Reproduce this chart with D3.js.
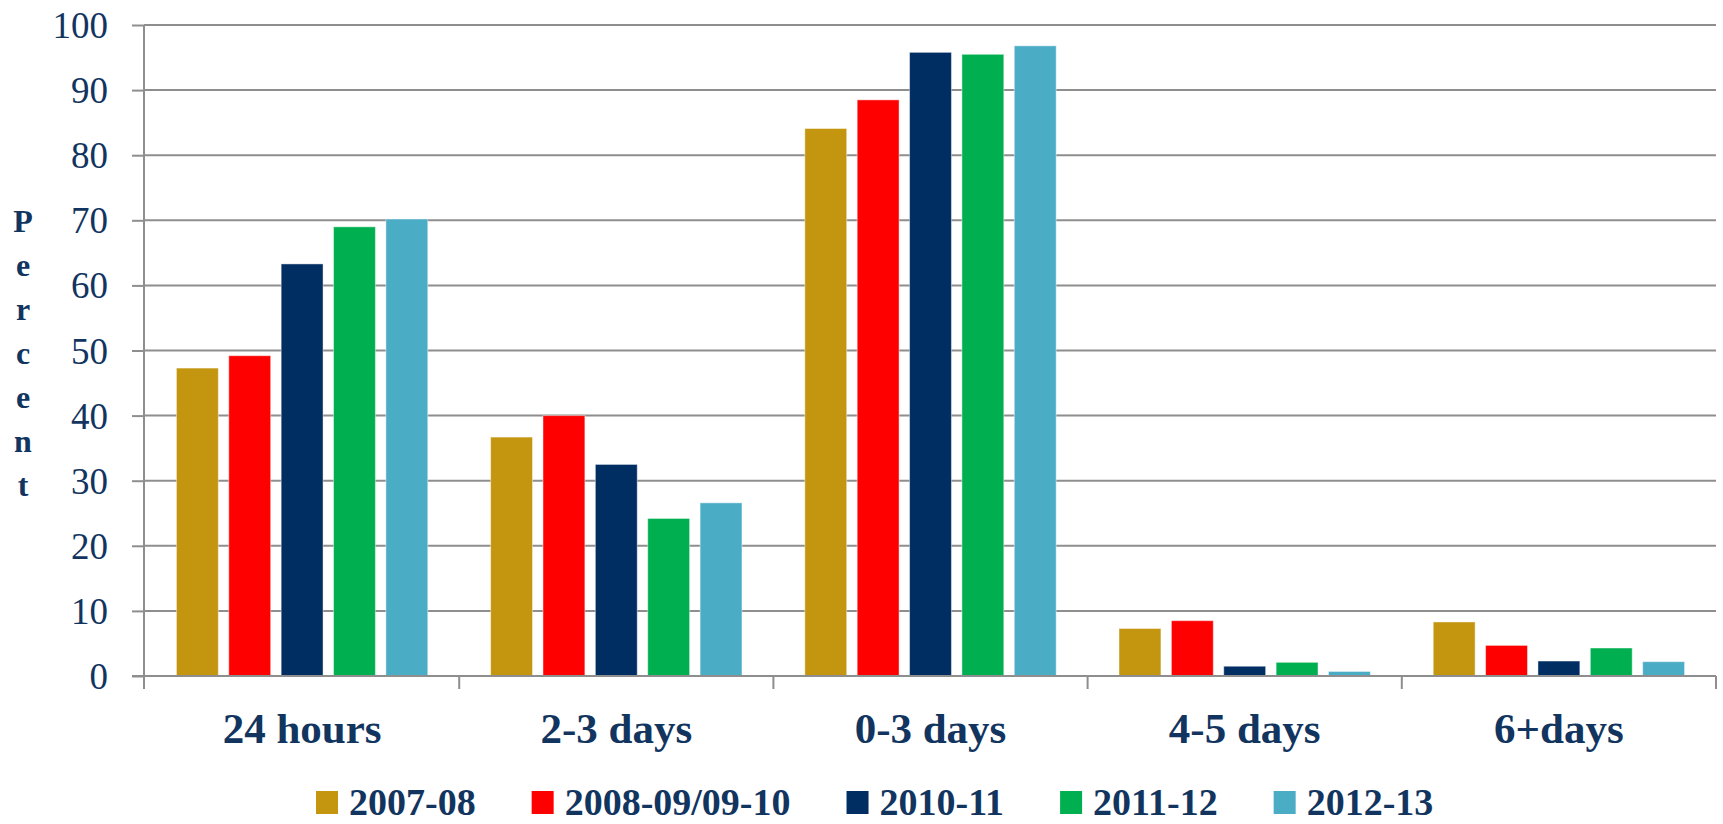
<!DOCTYPE html>
<html>
<head>
<meta charset="utf-8">
<script src="https://cdn.jsdelivr.net/npm/d3@7"></script>
<style>
  html, body { margin: 0; padding: 0; background: #ffffff; }
  svg { display: block; }
  text { font-family: "Liberation Serif", "DejaVu Serif", serif; fill: #12355f; }
</style>
</head>
<body>
<svg id="chart" width="1723" height="824"></svg>
<script>
// Share of cases completed, by time bucket and year
const categories = ["24 hours", "2-3 days", "0-3 days", "4-5 days", "6+days"];
const seriesNames = ["2007-08", "2008-09/09-10", "2010-11", "2011-12", "2012-13"];
const seriesColors = ["#c4950f", "#ff0000", "#002d62", "#00b050", "#4bacc6"];
const values2007 = [47.3, 36.7, 84.1, 7.3, 8.3];
const values2008 = [49.2, 40.0, 88.5, 8.5, 4.7];
const values2010 = [63.3, 32.5, 95.8, 1.5, 2.3];
const values2011 = [69.0, 24.2, 95.5, 2.1, 4.3];
const values2012 = [70.2, 26.6, 96.8, 0.7, 2.2];
const yTicks = [0, 10, 20, 30, 40, 50, 60, 70, 80, 90, 100];
const yTitle = "Percent";

const seriesValues = [values2007, values2008, values2010, values2011, values2012];

const svg = d3.select("#chart");
const plotLeft = 145, plotRight = 1716, plotTop = 25, plotBottom = 676;

const x0 = d3.scaleBand().domain(categories).range([plotLeft, plotRight]).padding(0);
const x1 = d3.scaleBand().domain(seriesNames).range([0, x0.bandwidth()])
  .paddingInner(0.2).paddingOuter(0.6);
const y = d3.scaleLinear().domain([0, 100]).range([plotBottom, plotTop]);

const gridColor = "#8e8e8e";

// horizontal gridlines
svg.append("g").selectAll("line").data(yTicks.filter(d => d > 0)).join("line")
  .attr("x1", plotLeft - 1).attr("x2", plotRight)
  .attr("y1", d => y(d)).attr("y2", d => y(d))
  .attr("stroke", gridColor).attr("stroke-width", 2);

// bars
const groups = svg.append("g").selectAll("g").data(categories).join("g")
  .attr("transform", c => `translate(${x0(c)},0)`);
groups.selectAll("rect")
  .data((c, ci) => seriesNames.map((s, si) => ({ s, si, v: seriesValues[si][ci] })))
  .join("rect")
  .attr("x", d => x1(d.s))
  .attr("width", x1.bandwidth())
  .attr("y", d => y(d.v))
  .attr("height", d => y(0) - y(d.v))
  .attr("fill", d => seriesColors[d.si])
  .attr("stroke", "#ffffff").attr("stroke-opacity", 0.45).attr("stroke-width", 1);

// y axis
const yAxis = d3.axisLeft(y).tickValues(yTicks).tickSize(12).tickPadding(24)
  .tickFormat(d3.format("d"));
const gy = svg.append("g").attr("transform", `translate(${plotLeft - 1},0)`).call(yAxis);
gy.select(".domain").remove();
gy.selectAll(".tick line").attr("stroke", gridColor).attr("stroke-width", 2);
gy.selectAll(".tick text")
  .style("font-family", '"Liberation Serif", serif')
  .attr("font-size", 37).attr("fill", "#12355f").attr("dy", "0.34em");
svg.append("line")
  .attr("x1", plotLeft - 1).attr("x2", plotLeft - 1).attr("y1", plotTop).attr("y2", plotBottom + 13)
  .attr("stroke", gridColor).attr("stroke-width", 2);

// x axis baseline and category boundary ticks
svg.append("line")
  .attr("x1", plotLeft - 13).attr("x2", plotRight).attr("y1", plotBottom).attr("y2", plotBottom)
  .attr("stroke", gridColor).attr("stroke-width", 2);
const boundaries = categories.map(c => x0(c)).concat([plotRight]);
svg.append("g").selectAll("line").data(boundaries.slice(1)).join("line")
  .attr("x1", d => d).attr("x2", d => d).attr("y1", plotBottom).attr("y2", plotBottom + 13)
  .attr("stroke", gridColor).attr("stroke-width", 2);

// category labels
svg.append("g").selectAll("text").data(categories).join("text")
  .attr("x", c => x0(c) + x0.bandwidth() / 2)
  .attr("y", 743)
  .attr("text-anchor", "middle")
  .attr("font-size", 43).attr("font-weight", "bold")
  .text(c => c);

// vertical axis title, one letter per line
svg.append("g").selectAll("text").data(yTitle.split("")).join("text")
  .attr("x", 23).attr("y", (d, i) => 232 + i * 44)
  .attr("text-anchor", "middle")
  .attr("font-size", 32).attr("font-weight", "bold")
  .text(d => d);

// legend
const legend = svg.append("g");
let lx = 316;
seriesNames.forEach((name, i) => {
  legend.append("rect")
    .attr("x", lx).attr("y", 791).attr("width", 22).attr("height", 23)
    .attr("fill", seriesColors[i]);
  const t = legend.append("text")
    .attr("x", lx + 33).attr("y", 815)
    .attr("font-size", 38).attr("font-weight", "bold")
    .text(name);
  const w = t.node().getComputedTextLength();
  lx += 33 + w + 56;
});
</script>
</body>
</html>
